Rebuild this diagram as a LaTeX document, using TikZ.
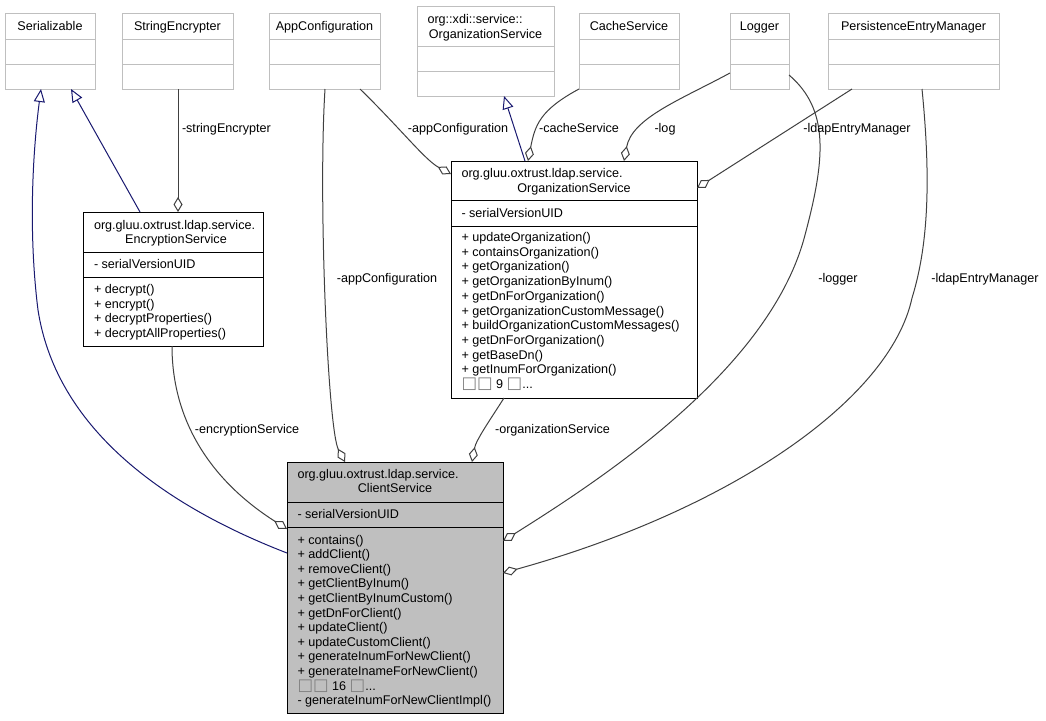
\documentclass[tikz,border=0pt]{standalone}
\usepackage{fontspec}
\setmainfont{Liberation Sans}
\newfontfamily\symfont{DejaVu Sans}
\usetikzlibrary{arrows.meta,calc}
\definecolor{umlnavy}{HTML}{191970}
\definecolor{edgegrey}{HTML}{404040}
\definecolor{extgrey}{HTML}{BFBFBF}
\definecolor{clsfill}{HTML}{BFBFBF}
\newcommand{\tofu}{{\symfont\fontsize{16.5}{14.6}\selectfont\color{gray}□}}
% name, style, colour, x, y, w, h, d1, d2
\newcommand{\umlbox}[9]{%
  \node[#2, minimum width=#6pt, minimum height=#7pt] (#1) at (#4,#5) {};
  \draw[#3, line width=1pt] ($(#1.north west)+(0,#8)$) -- ($(#1.north east)+(0,#8)$);
  \draw[#3, line width=1pt] ($(#1.north west)+(0,#9)$) -- ($(#1.north east)+(0,#9)$);
}
\tikzset{
  cls/.style={draw=black, line width=1pt, inner sep=0pt, outer sep=0pt, anchor=north west, fill=white},
  ext/.style={cls, draw=extgrey},
  main/.style={cls, fill=clsfill},
  txt/.style={inner sep=0pt, outer sep=0pt, font=\fontsize{12.6}{14.6}\selectfont, anchor=base},
  ltxt/.style={txt, anchor=base west},
  inh/.style={draw=umlnavy, line width=1pt, -{Triangle[open,length=13pt,width=11pt]}},
  comp/.style={draw=edgegrey, line width=1pt, -{Diamond[open,length=15pt,width=9pt]}}
}
\begin{document}
\begin{tikzpicture}[x=1pt,y=-1pt]
\fill[white] (0,0) rectangle (1046,720);
\useasboundingbox (0,0) rectangle (1046,720);

% ---- external classes (top row)
\umlbox{ser}{ext}{extgrey}{5}{13}{90}{76}{26}{51}
\node[txt] (sert) at (50,30) {Serializable};
\umlbox{strenc}{ext}{extgrey}{122}{13}{111}{76}{26}{51}
\node[txt] (strenct) at (177.5,30) {StringEncrypter};
\umlbox{app}{ext}{extgrey}{269}{13}{111}{76}{26}{51}
\node[txt] (appt) at (324.5,30) {AppConfiguration};
\umlbox{xdi}{ext}{extgrey}{417}{6}{137}{90}{40}{65}
\node[ltxt] (xdit1) at (427.5,23.5) {org::xdi::service::};
\node[txt] (xdit2) at (485.5,38) {OrganizationService};
\umlbox{cache}{ext}{extgrey}{579}{13}{100}{76}{26}{51}
\node[txt] (cachet) at (629,30) {CacheService};
\umlbox{logger}{ext}{extgrey}{730}{13}{59}{76}{26}{51}
\node[txt] (loggert) at (759.5,30) {Logger};
\umlbox{pem}{ext}{extgrey}{828}{13}{171}{76}{26}{51}
\node[txt] (pemt) at (913.5,30) {PersistenceEntryManager};

% ---- EncryptionService
\umlbox{enc}{cls}{black}{83}{212}{180}{134}{40}{65}
\node[ltxt] (enct1) at (94,229.2) {org.gluu.oxtrust.ldap.service.};
\node[txt] (enct2) at (176,243.8) {EncryptionService};
\node[ltxt] (encattr) at (94,268.5) {- serialVersionUID};
\foreach \t [count=\i] in {{+ decrypt()},{+ encrypt()},{+ decryptProperties()},{+ decryptAllProperties()}}
  \node[ltxt] (encm\i) at (94,{293.5+14.5*(\i-1)}) {\t};

% ---- OrganizationService
\umlbox{org}{cls}{black}{451}{161}{246}{237}{39}{65}
\node[ltxt] (orgt1) at (461.5,177.7) {org.gluu.oxtrust.ldap.service.};
\node[txt] (orgt2) at (574,192.2) {OrganizationService};
\node[ltxt] (orgattr) at (461.5,217.5) {- serialVersionUID};
\foreach \t [count=\i] in {{+ updateOrganization()},{+ containsOrganization()},{+ getOrganization()},{+ getOrganizationByInum()},{+ getDnForOrganization()},{+ getOrganizationCustomMessage()},{+ buildOrganizationCustomMessages()},{+ getDnForOrganization()},{+ getBaseDn()},{+ getInumForOrganization()}}
  \node[ltxt] (orgm\i) at (461.5,{241.5+14.7*(\i-1)}) {\t};
\node[ltxt] (orgm11) at (461.5,388.5) {\tofu\tofu{} 9 \tofu...};

% ---- ClientService
\umlbox{cs}{main}{black}{287}{462}{216}{251}{40}{65}
\node[ltxt] (cst1) at (297.5,478) {org.gluu.oxtrust.ldap.service.};
\node[txt] (cst2) at (395,492.5) {ClientService};
\node[ltxt] (csattr) at (297.5,518.5) {- serialVersionUID};
\foreach \t [count=\i] in {{+ contains()},{+ addClient()},{+ removeClient()},{+ getClientByInum()},{+ getClientByInumCustom()},{+ getDnForClient()},{+ updateClient()},{+ updateCustomClient()},{+ generateInumForNewClient()},{+ generateInameForNewClient()}}
  \node[ltxt] (csm\i) at (297.5,{544+14.6*(\i-1)}) {\t};
\node[ltxt] (csm11) at (297.5,690) {\tofu\tofu{} 16 \tofu...};
\node[ltxt] (csm12) at (297.5,704.6) {- generateInumForNewClientImpl()};

% ---- inheritance
\draw[inh] ($(enc.north west)+(57,0)$) -- ($(ser.south west)+(66,0)$);
\draw[inh] ($(cs.north west)+(0,91)$) .. controls (150,500) and (55,420) .. (38,310)
   .. controls (28,230) and (33,150) .. ($(ser.south west)+(36,0)$);
\draw[inh] ($(org.north west)+(74,0)$) -- ($(xdi.south west)+(87,0)$);

% ---- compositions
\draw[comp] ($(strenc.south west)+(56,0)$) -- ($(enc.north west)+(95,0)$);
\draw[comp] ($(app.south west)+(91,0)$) .. controls (400,128) and (425,160) .. ($(org.north west)+(0,13)$);
\draw[comp] ($(app.south west)+(56,0)$) .. controls (318,200) and (328,430) .. ($(cs.north west)+(58,0)$);
\draw[comp] (cache.south west) .. controls (540,110) and (535,125) .. ($(org.north west)+(77,0)$);
\draw[comp] ($(logger.south west)+(0,-16)$) .. controls (680,100) and (632,118) .. ($(org.north west)+(173,0)$);
\draw[comp] ($(pem.south west)+(24,0)$) -- ($(org.north east)+(0,27)$);
\draw[comp] ($(logger.south east)+(0,-14)$) .. controls (830,110) and (825,160) .. (805,235)
   .. controls (770,370) and (600,480) .. ($(cs.north east)+(0,79)$);
\draw[comp] ($(pem.south west)+(94,0)$) .. controls (930,170) and (930,240) .. (912,298)
   .. controls (890,400) and (730,510) .. ($(cs.north east)+(0,111)$);
\draw[comp] ($(enc.south west)+(89,0)$) .. controls (172,420) and (210,480) .. ($(cs.north west)+(0,67)$);
\draw[comp] ($(org.south west)+(53,0)$) .. controls (490,420) and (476,440) .. ($(cs.north west)+(185,0)$);

% ---- edge labels
\node[ltxt] (l1) at (182,132.5) {-stringEncrypter};
\node[txt] (l2) at (458,132.5) {-appConfiguration};
\node[txt] (l3) at (579,132.5) {-cacheService};
\node[txt] (l4) at (665,132.5) {-log};
\node[txt] (l5) at (857,132.5) {-ldapEntryManager};
\node[txt] (l6) at (387,282.5) {-appConfiguration};
\node[txt] (l7) at (838,282.5) {-logger};
\node[txt] (l8) at (985,282.5) {-ldapEntryManager};
\node[txt] (l9) at (247,433.5) {-encryptionService};
\node[txt] (l10) at (552.5,433.5) {-organizationService};
\end{tikzpicture}
\end{document}
